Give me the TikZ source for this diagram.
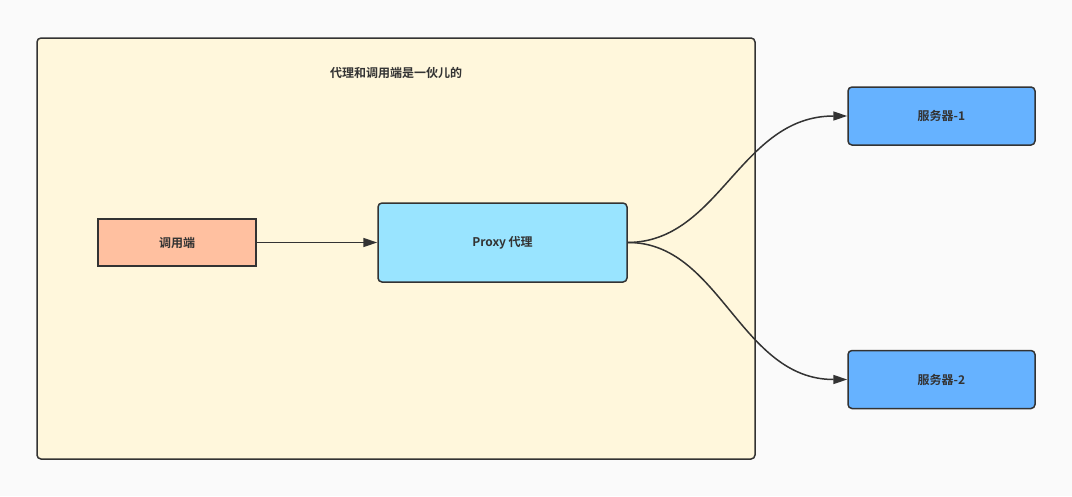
\documentclass[tikz,border=0pt]{standalone}
\usepackage{fontspec}
\setmainfont{Noto Sans CJK SC}[BoldFont={* Bold}]
\usetikzlibrary{arrows.meta}
\definecolor{bg}{HTML}{FAFAFA}
\definecolor{grp}{HTML}{FFF7DC}
\definecolor{calc}{HTML}{FFC0A0}
\definecolor{prx}{HTML}{99E4FF}
\definecolor{srv}{HTML}{66B2FF}
\definecolor{ln}{HTML}{333333}
\tikzset{
  box/.style={draw=ln,line width=1.5pt,font=\bfseries\fontsize{12}{14}\selectfont,text=ln},
  conn/.style={draw=ln,line width=1.5pt,-{Triangle[length=14pt,width=9pt]}}
}
\begin{document}
\begin{tikzpicture}[x=1pt,y=-1pt]
\fill[bg] (0,0) rectangle (1072,496);
\useasboundingbox (0,0) rectangle (1072,496);
\node[box,fill=grp,rounded corners=4pt,minimum width=718pt,minimum height=421pt] (grp) at (396,248.5) {};
\node[font=\bfseries\fontsize{12}{14}\selectfont,text=ln] (title) at (396,73) {代理和调用端是一伙儿的};
\node[box,fill=calc,minimum width=158pt,minimum height=47pt] (c) at (177,242.5) {调用端};
\node[box,fill=prx,rounded corners=4pt,minimum width=249pt,minimum height=79pt] (p) at (502.5,242.5) {Proxy 代理};
\node[box,fill=srv,rounded corners=4pt,minimum width=187pt,minimum height=58pt] (s1) at (941.5,116) {服务器-1};
\node[box,fill=srv,rounded corners=4pt,minimum width=187pt,minimum height=58pt] (s2) at (941.5,379.5) {服务器-2};
\draw[conn] (c.east) -- (p.west);
\draw[conn] (p.east) .. controls (720,242) and (740,116) .. (s1.west);
\draw[conn] (p.east) .. controls (720,242) and (740,379.5) .. (s2.west);
\end{tikzpicture}
\end{document}
